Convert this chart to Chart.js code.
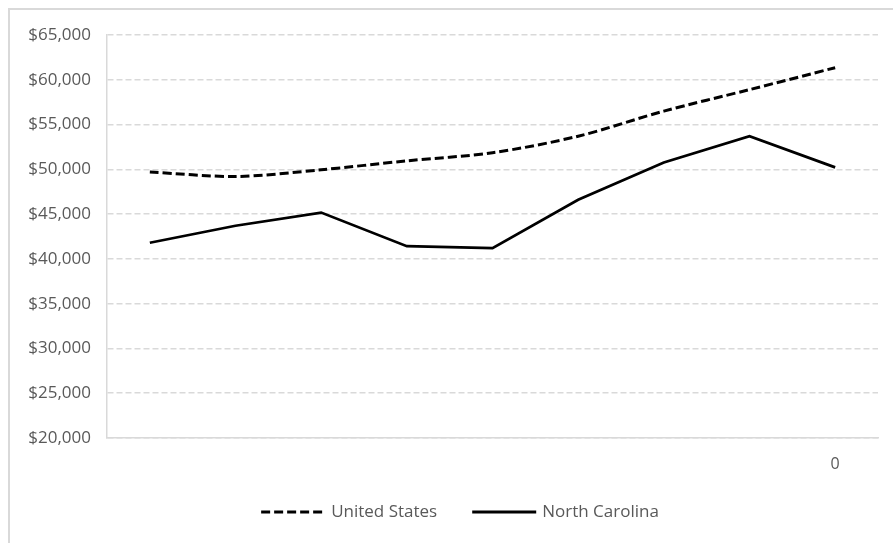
<!DOCTYPE html>
<html>
<head>
<meta charset="utf-8">
<script src="https://cdn.jsdelivr.net/npm/chart.js@4/dist/chart.umd.min.js"></script>
<style>
  html, body { margin: 0; padding: 0; background: #ffffff; }
  #wrap { position: relative; width: 893px; height: 543px; }
</style>
</head>
<body>
<div id="wrap"><canvas id="c" width="893" height="543"></canvas></div>
<script>
// Category labels along the x axis (only the last one carries text)
const categories = ["", "", "", "", "", "", "", "", "0"];

// Median household income, US vs North Carolina
const unitedStates  = [49700, 49200, 49950, 50950, 51850, 53700, 56500, 58900, 61350];
const northCarolina = [41800, 43700, 45170, 41420, 41200, 46600, 50770, 53700, 50220];

// Y axis range and step
const yMin = 20000;
const yMax = 65000;
const yStep = 5000;

const textGray = "#595959";
const lineGray = "#d9d9d9";
const fontFamily = "'Open Sans', sans-serif";

// Thin frame along the top and left edges of the chart
const framePlugin = {
  id: "frame",
  beforeDraw(chart) {
    const ctx = chart.ctx;
    ctx.save();
    ctx.strokeStyle = lineGray;
    ctx.lineWidth = 2;
    ctx.beginPath();
    ctx.moveTo(9, 543);
    ctx.lineTo(9, 9);
    ctx.lineTo(893, 9);
    ctx.stroke();
    ctx.restore();
  }
};

// Legend drawn by hand so the dashed sample keeps its dash pattern
const legendPlugin = {
  id: "lineLegend",
  afterDraw(chart) {
    const ctx = chart.ctx;
    const sampleW = 64;
    const gapSampleText = 6;
    const gapItems = 35;
    const y = 512;
    const centerX = 460;
    ctx.save();
    ctx.font = "17px " + fontFamily;
    const items = chart.data.datasets.map(ds => ({
      ds, w: sampleW + gapSampleText + ctx.measureText(ds.label).width
    }));
    const total = items.reduce((s, it) => s + it.w, 0) + gapItems * (items.length - 1);
    let x = centerX - total / 2;
    items.forEach(it => {
      ctx.strokeStyle = it.ds.borderColor;
      ctx.lineWidth = 3;
      ctx.setLineDash(it.ds.borderDash || []);
      ctx.beginPath();
      ctx.moveTo(x, y);
      ctx.lineTo(x + sampleW, y);
      ctx.stroke();
      ctx.setLineDash([]);
      ctx.fillStyle = textGray;
      ctx.textAlign = "left";
      ctx.textBaseline = "middle";
      ctx.fillText(it.ds.label, x + sampleW + gapSampleText, y);
      x += it.w + gapItems;
    });
    ctx.restore();
  }
};

new Chart(document.getElementById("c"), {
  type: "line",
  data: {
    labels: categories,
    datasets: [
      {
        label: "United States",
        data: unitedStates,
        borderColor: "#000000",
        backgroundColor: "#000000",
        borderWidth: 3,
        borderDash: [9, 4],
        pointRadius: 0,
        tension: 0.3,
        fill: false
      },
      {
        label: "North Carolina",
        data: northCarolina,
        borderColor: "#000000",
        backgroundColor: "#000000",
        borderWidth: 2.75,
        pointRadius: 0,
        tension: 0,
        fill: false
      }
    ]
  },
  options: {
    responsive: false,
    animation: false,
    layout: { padding: { left: 9, right: 15, top: 35, bottom: 0 } },
    plugins: {
      legend: { display: false },
      tooltip: { enabled: false }
    },
    scales: {
      x: {
        offset: true,
        grid: { display: false, drawTicks: false },
        border: { display: true, color: lineGray, width: 1.5 },
        ticks: {
          color: textGray,
          font: { family: fontFamily, size: 16 },
          padding: 17,
          maxRotation: 0,
          autoSkip: false
        },
        afterFit(scale) { scale.height = 105; }
      },
      y: {
        min: yMin,
        max: yMax,
        grid: { color: lineGray, lineWidth: 1.5, drawTicks: false },
        border: { display: true, color: lineGray, width: 1.5, dash: [6, 3] },
        ticks: {
          stepSize: yStep,
          color: textGray,
          font: { family: fontFamily, size: 17 },
          padding: 16,
          callback: v => "$" + v.toLocaleString("en-US")
        },
        afterFit(scale) { scale.width = 98; }
      }
    }
  },
  plugins: [framePlugin, legendPlugin]
});
</script>
</body>
</html>
